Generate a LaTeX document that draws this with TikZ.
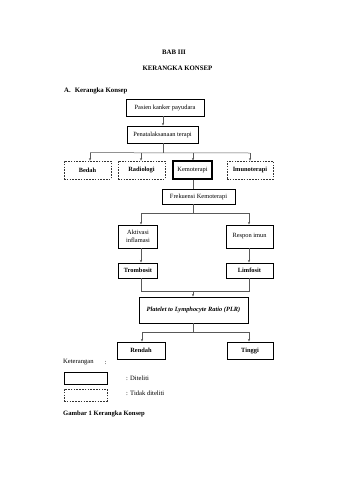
\documentclass[tikz,border=0pt]{standalone}
\usepackage{fontspec}
\setmainfont{Liberation Serif}
\usetikzlibrary{arrows.meta}
\begin{document}
\begin{tikzpicture}[x=1pt,y=-1pt,
  txt/.style={font=\fontsize{6.6}{8}\selectfont, inner sep=0pt},
  solidbox/.style={draw=black, line width=0.9pt, minimum height=#1, inner sep=1pt, font=\fontsize{6.4}{8}\selectfont, align=center},
  solidbox/.default=17pt,
  dashbox/.style={draw=black!80, line width=0.7pt, dash pattern=on 1.6pt off 1.2pt, minimum height=18pt, inner sep=1pt, font=\fontsize{6.4}{8}\selectfont\bfseries},
  conn/.style={draw=black!65, line width=0.5pt},
  arr/.style={conn, -{Stealth[length=2.6pt,width=2.2pt]}}
]
\useasboundingbox[fill=white] (0,0) rectangle (339,480);

% titles
\node[txt, font=\fontsize{6.8}{8}\selectfont\bfseries] (bab) at (174,52) {BAB III};
\node[txt, font=\fontsize{6.8}{8}\selectfont\bfseries] (ker) at (177.5,68.5) {KERANGKA KONSEP};
\node[txt, anchor=west, font=\fontsize{6.8}{8}\selectfont\bfseries] (secA) at (64,91) {A.\hspace{4pt}Kerangka Konsep};

% main chain
\node[solidbox, minimum width=78pt] (pasien) at (165,107.5) {Pasien kanker payudara};
\node[solidbox, minimum width=71pt] (pena) at (162.5,134.5) {Penatalaksanaan terapi};

\node[dashbox, minimum width=47pt] (bedah) at (87.5,170) {Bedah};
\node[dashbox, minimum width=47pt] (radio) at (141.5,170) {Radiologi};
\node[solidbox=18pt, minimum width=39pt, line width=1.1pt] (kemo) at (192.5,170) {Kemoterapi};
\node[dashbox, minimum width=46pt] (imuno) at (250,170) {Imunoterapi};

\node[solidbox=15pt, minimum width=73pt] (frek) at (198.5,196.5) {Frekuensi Kemoterapi};

\node[solidbox=23pt, minimum width=39pt] (akt) at (138,236.5) {Aktivasi\\[-0.5pt]inflamasi};
\node[solidbox=23pt, minimum width=47pt] (resp) at (249.5,236.5) {Respon imun};
\node[solidbox=15pt, minimum width=39pt, font=\fontsize{6.4}{8}\selectfont\bfseries] (trom) at (138,270.5) {Trombosit};
\node[solidbox=15pt, minimum width=47pt, font=\fontsize{6.4}{8}\selectfont\bfseries] (limf) at (249.5,270.5) {Limfosit};

\node[solidbox=26pt, minimum width=109pt, font=\fontsize{6.4}{8}\selectfont\bfseries\itshape] (plr) at (193.5,310) {Platelet to Lymphocyte Ratio (PLR)};

\node[solidbox=17pt, minimum width=48pt, font=\fontsize{6.4}{8}\selectfont\bfseries] (rendah) at (141,350.5) {Rendah};
\node[solidbox=17pt, minimum width=46pt, font=\fontsize{6.4}{8}\selectfont\bfseries] (tinggi) at (250,350.5) {Tinggi};

% connectors
\coordinate (b1) at (163,153);
\coordinate (b2) at (193,213);
\coordinate (b3) at (193,291);
\coordinate (b4) at (193,332);

\draw[arr] (pasien.south -| pena.north) ++(0.5,0) -- (pena.north -| 163,0);
\draw[conn] (pena.south -| b1) -- (b1);
\draw[conn] (bedah.north -| 90,0) ++(0,-8) -- (250,153);
\draw[arr] (90,153) -- (bedah.north -| 90,0);
\draw[arr] (141,153) -- (radio.north -| 141,0);
\draw[arr] (193,153) -- (kemo.north -| 193,0);
\draw[arr] (250,153) -- (imuno.north -| 250,0);

\draw[conn] (kemo.south -| 193,0) -- (frek.north -| 193,0);
\draw[conn] (frek.south -| b2) -- (b2);
\draw[conn] (141,213) -- (249,213);
\draw[arr] (141,213) -- (akt.north -| 141,0);
\draw[arr] (249,213) -- (resp.north -| 249,0);
\draw[arr] (akt.south -| 141,0) -- (trom.north -| 141,0);
\draw[arr] (resp.south -| 249,0) -- (limf.north -| 249,0);

\draw[conn] (trom.south -| 141,0) -- (141,291) -- (249,291) -- (limf.south -| 249,0);
\draw[arr] (b3) -- (plr.north -| b3);
\draw[conn] (plr.south -| b4) -- (b4);
\draw[conn] (142,332) -- (249,332);
\draw[arr] (142,332) -- (rendah.north -| 142,0);
\draw[arr] (249,332) -- (tinggi.north -| 249,0);

% legend
\node[txt, anchor=west] (ket) at (63,362.5) {Keterangan};
\node[txt, anchor=west] (ketc) at (104.5,362.5) {:};
\node[draw=black, line width=0.9pt, minimum width=43pt, minimum height=11.5pt, inner sep=0pt] (lsolid) at (85.5,378.5) {};
\node[draw=black!80, line width=0.7pt, dash pattern=on 1.6pt off 1.2pt, minimum width=43pt, minimum height=12pt, inner sep=0pt] (ldash) at (85.5,395) {};
\node[txt, anchor=west] (ld1) at (126,378) {: Diteliti};
\node[txt, anchor=west] (ld2) at (126,393.5) {: Tidak diteliti};
\node[txt, anchor=west, font=\fontsize{6.6}{8}\selectfont\bfseries] (gam) at (63,414) {Gambar 1 Kerangka Konsep};
\end{tikzpicture}
\end{document}
